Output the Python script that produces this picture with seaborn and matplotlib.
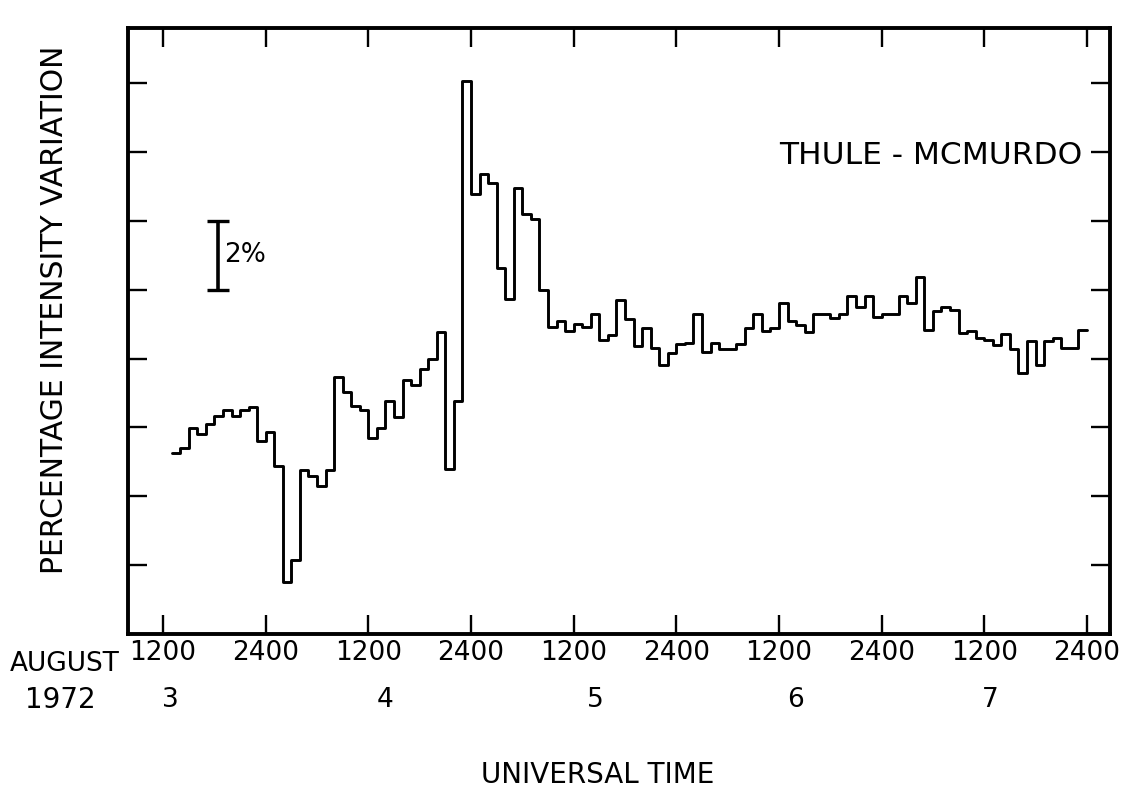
import numpy as np
import pandas as pd
import matplotlib
matplotlib.use("Agg")
import matplotlib.pyplot as plt
import matplotlib.transforms as mtransforms
import seaborn as sns

# ---- data: hourly Thule - McMurdo percentage variation, 13 UT Aug 3 .. 24 UT Aug 7, 1972
hour_start = 13          # hours after 00 UT Aug 3 of the first bin
values = [
    -2.73, -2.59, -2.03, -2.19, -1.90, -1.68, -1.50, -1.68, -1.50, -1.40,
    -2.39, -2.12, -3.11, -6.50, -5.84, -3.23, -3.40, -3.70, -3.23, -0.53,
    -0.98, -1.39, -1.50, -2.30, -2.03, -1.22, -1.71, -0.61, -0.77, -0.31,
    -0.01, 0.78, -3.20, -1.23, 8.07, 4.79, 5.37, 5.09, 2.63, 1.73,
    4.94, 4.21, 4.04, 1.99, 0.91, 1.10, 0.80, 0.99, 0.92, 1.29,
    0.53, 0.68, 1.71, 1.14, 0.35, 0.90, 0.31, -0.19, 0.16, 0.43,
    0.44, 1.29, 0.19, 0.45, 0.28, 0.29, 0.41, 0.89, 1.29, 0.80,
    0.90, 1.60, 1.10, 0.96, 0.78, 1.28, 1.29, 1.19, 1.29, 1.82,
    1.50, 1.82, 1.21, 1.29, 1.30, 1.82, 1.62, 2.38, 0.83, 1.39,
    1.49, 1.40, 0.74, 0.79, 0.61, 0.53, 0.38, 0.72, 0.29, -0.41,
    0.50, -0.20, 0.50, 0.61, 0.31, 0.31, 0.82,
]
tick_hours = [12, 24, 36, 48, 60, 72, 84, 96, 108, 120]
tick_labels = ["1200", "2400"] * 5
day_labels = ["3", "4", "5", "6", "7"]
day_label_hours = [12.8, 37.9, 62.5, 85.9, 108.7]
ytick_values = [-6, -4, -2, 0, 2, 4, 6, 8]
title_text = "THULE - MCMURDO"
scale_bar_hour = 18.4
scale_bar_low, scale_bar_high = 2, 4

# build step table (last value repeated at the closing edge)
hours = list(range(hour_start, hour_start + len(values) + 1))
df = pd.DataFrame({"hour": hours, "variation": values + [values[-1]]})

sns.set_style("ticks")
plt.rcParams["font.family"] = ["DejaVu Sans"]
plt.rcParams["text.color"] = "black"
plt.rcParams["xtick.color"] = "black"
plt.rcParams["ytick.color"] = "black"
plt.rcParams["axes.labelcolor"] = "black"

W, H = 1143, 796
fig = plt.figure(figsize=(W / 100, H / 100), dpi=100)
ax = fig.add_axes([128 / W, 1 - 634 / H, (1110 - 128) / W, (634 - 28) / H])

sns.lineplot(data=df, x="hour", y="variation", drawstyle="steps-post",
             color="black", linewidth=2.1, estimator=None, ax=ax)

# scale bar 2 %
ax.errorbar([scale_bar_hour], [(scale_bar_low + scale_bar_high) / 2],
            yerr=[(scale_bar_high - scale_bar_low) / 2], color="black",
            capsize=8, capthick=2.4, elinewidth=2.6)
ax.text(scale_bar_hour + 0.75, (scale_bar_low + scale_bar_high) / 2, "2%",
        fontsize=19, ha="left", va="center")

ax.text(101.8, 5.9, title_text, fontsize=22.5, ha="center", va="center")

ax.set_xlim(7.9, 122.7)
ax.set_ylim(-8.0, 9.6)
ax.set_xticks(tick_hours)
ax.set_xticklabels(tick_labels, fontsize=19)
ax.set_yticks(ytick_values)
ax.set_yticklabels([])
ax.set_xlabel("")
ax.set_ylabel("")
ax.tick_params(axis="both", direction="in", length=14, width=1.7,
               top=True, right=True, bottom=True, left=True)
ax.tick_params(axis="x", pad=4)
for sp in ax.spines.values():
    sp.set_visible(True)
    sp.set_linewidth(2.8)
    sp.set_color("black")

# date labels below the axis
trans = mtransforms.blended_transform_factory(ax.transData, fig.transFigure)
for h, d in zip(day_label_hours, day_labels):
    fig.text(h, 1 - 700 / H, d, transform=trans, fontsize=19,
             ha="center", va="center")
fig.text(65 / W, 1 - 664 / H, "AUGUST", fontsize=19, ha="center", va="center")
fig.text(60 / W, 1 - 700 / H, "1972", fontsize=20, ha="center", va="center")
fig.text(598 / W, 1 - 775 / H, "UNIVERSAL TIME", fontsize=20,
         ha="center", va="center")
fig.text(55 / W, 1 - 310 / H, "PERCENTAGE INTENSITY VARIATION", fontsize=21.5,
         rotation=90, ha="center", va="center")

fig.savefig("out.png", dpi=100, facecolor="white")
